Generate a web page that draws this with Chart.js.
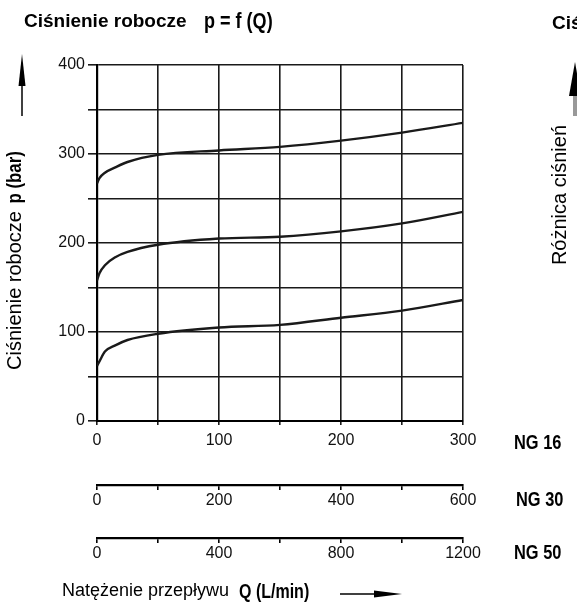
<!DOCTYPE html>
<html>
<head>
<meta charset="utf-8">
<script src="https://cdn.jsdelivr.net/npm/chart.js@4.4.1/dist/chart.umd.min.js"></script>
<style>
  body { margin: 0; background: #fff; }
  canvas { display: block; }
</style>
</head>
<body>
<canvas id="myChart" width="577" height="613"></canvas>
<script>
// Q in L/min (NG 16 scale) and the three pressure curves in bar
const flowQ = [0, 2, 6.5, 15, 25, 50, 100, 150, 200, 250, 300];
const curve300 = [267, 273, 279, 285, 291, 299, 304, 308, 315, 324, 335];
const curve200 = [158, 166, 175, 184, 190, 198, 205, 207, 213, 222, 235];
const curve100 = [62, 67, 78, 85, 91, 98, 105, 108, 116, 124, 136];
const ng16Max = 300;
const ng30Max = 600;
const ng50Max = 1200;

const sans = "'Liberation Sans', Arial, sans-serif";
const ink = '#1a1a1a';

function toPoints(ys) {
    return flowQ.map((q, i) => ({ x: q, y: ys[i] }));
}

function curveSet(ys) {
    return {
        data: toPoints(ys),
        borderColor: ink,
        borderWidth: 2.4,
        pointRadius: 0,
        cubicInterpolationMode: 'monotone',
        fill: false,
        xAxisID: 'x',
        yAxisID: 'y'
    };
}

// draw text squeezed horizontally, like the scanned condensed lettering
function narrowText(c, txt, x, y, font, sx) {
    c.save();
    c.font = font;
    c.translate(x, y);
    c.scale(sx, 1);
    c.fillText(txt, 0, 0);
    c.restore();
}

const extras = {
    id: 'extras',
    afterDraw(chart) {
        const c = chart.ctx;
        c.save();
        c.fillStyle = '#000';
        c.strokeStyle = '#000';
        c.textBaseline = 'middle';
        c.textAlign = 'left';

        // title
        c.font = 'bold 19px ' + sans;
        c.fillText('Ciśnienie robocze', 24, 22);
        narrowText(c, 'p = f (Q)', 204, 22, 'bold 22px ' + sans, 0.82);

        // clipped neighbour chart on the right
        c.font = 'bold 19px ' + sans;
        c.fillText('Ciś', 552, 24);
        c.beginPath();
        c.moveTo(575, 62); c.lineTo(569, 96); c.lineTo(581, 96); c.closePath(); c.fill();
        c.fillStyle = '#999';
        c.fillRect(573, 96, 4, 20);
        c.fillStyle = '#000';
        c.save();
        c.translate(560, 125);
        c.rotate(-Math.PI / 2);
        c.font = '20px ' + sans;
        c.textAlign = 'right';
        c.fillText('Różnica ciśnień', 0, 0);
        c.restore();

        // y axis title with arrow
        c.lineWidth = 1.5;
        c.beginPath(); c.moveTo(22, 116); c.lineTo(22, 80); c.stroke();
        c.beginPath();
        c.moveTo(22, 54); c.lineTo(18.5, 86); c.lineTo(25.5, 86); c.closePath(); c.fill();
        c.save();
        c.translate(15, 370);
        c.rotate(-Math.PI / 2);
        c.font = '20px ' + sans;
        const yPart = 'Ciśnienie robocze ';
        c.fillText(yPart, 0, 0);
        const w1 = c.measureText(yPart).width;
        narrowText(c, 'p (bar)', w1 + 2, 0, 'bold 21px ' + sans, 0.8);
        c.restore();

        // NG labels next to each axis
        const sx = chart.scales.x, s30 = chart.scales.x30, s50 = chart.scales.x50;
        narrowText(c, 'NG 16', 514, sx.top + 22, 'bold 20px ' + sans, 0.82);
        narrowText(c, 'NG 30', 516, s30.top + 15, 'bold 20px ' + sans, 0.82);
        narrowText(c, 'NG 50', 514, s50.top + 15, 'bold 20px ' + sans, 0.82);

        // x axis title with arrow
        c.font = '18px ' + sans;
        c.fillText('Natężenie przepływu', 62, 591);
        narrowText(c, 'Q (L/min)', 239, 592, 'bold 20px ' + sans, 0.8);
        c.lineWidth = 1.5;
        c.beginPath(); c.moveTo(340, 594); c.lineTo(380, 594); c.stroke();
        c.beginPath();
        c.moveTo(402, 594); c.lineTo(374, 590.5); c.lineTo(374, 597.5); c.closePath(); c.fill();
        c.restore();
    }
};

const tickFont = { family: sans, size: 16 };

const ctx = document.getElementById('myChart').getContext('2d');
let chart = new Chart(ctx, {
    type: 'line',
    data: {
        datasets: [curveSet(curve300), curveSet(curve200), curveSet(curve100)]
    },
    options: {
        responsive: false,
        animation: false,
        layout: { padding: { left: 0, right: 114, top: 65, bottom: 35 } },
        plugins: {
            legend: { display: false },
            tooltip: { enabled: false }
        },
        scales: {
            x: {
                type: 'linear',
                position: 'bottom',
                weight: 0,
                min: 0,
                max: ng16Max,
                afterFit: s => { s.height = 64; },
                grid: { color: ink, lineWidth: 1.6, tickLength: 4 },
                border: { color: '#000', width: 2 },
                ticks: {
                    stepSize: 50,
                    padding: 6,
                    color: '#111',
                    font: tickFont,
                    callback: v => (v % 100 === 0 ? String(v) : '')
                }
            },
            x30: {
                type: 'linear',
                position: 'bottom',
                weight: 1,
                min: 0,
                max: ng30Max,
                afterFit: s => { s.height = 53; },
                grid: { drawOnChartArea: false, color: '#000', lineWidth: 1.6, tickLength: 5 },
                border: { color: '#000', width: 2.2 },
                ticks: {
                    stepSize: 100,
                    padding: 1,
                    color: '#111',
                    font: tickFont,
                    callback: v => (v % 200 === 0 ? String(v) : '')
                }
            },
            x50: {
                type: 'linear',
                position: 'bottom',
                weight: 2,
                min: 0,
                max: ng50Max,
                afterFit: s => { s.height = 40; },
                grid: { drawOnChartArea: false, color: '#000', lineWidth: 1.6, tickLength: 5 },
                border: { color: '#000', width: 2.2 },
                ticks: {
                    stepSize: 200,
                    padding: 1,
                    color: '#111',
                    font: tickFont,
                    callback: v => (v % 400 === 0 ? String(v) : '')
                }
            },
            y: {
                type: 'linear',
                min: 0,
                max: 400,
                afterFit: s => { s.width = 97; },
                grid: { color: ink, lineWidth: 1.6, tickLength: 9 },
                border: { color: '#000', width: 2.2 },
                ticks: {
                    stepSize: 50,
                    padding: 3,
                    color: '#111',
                    font: tickFont,
                    callback: v => (v % 100 === 0 ? String(v) : '')
                }
            }
        }
    },
    plugins: [extras]
});
</script>
</body>
</html>
